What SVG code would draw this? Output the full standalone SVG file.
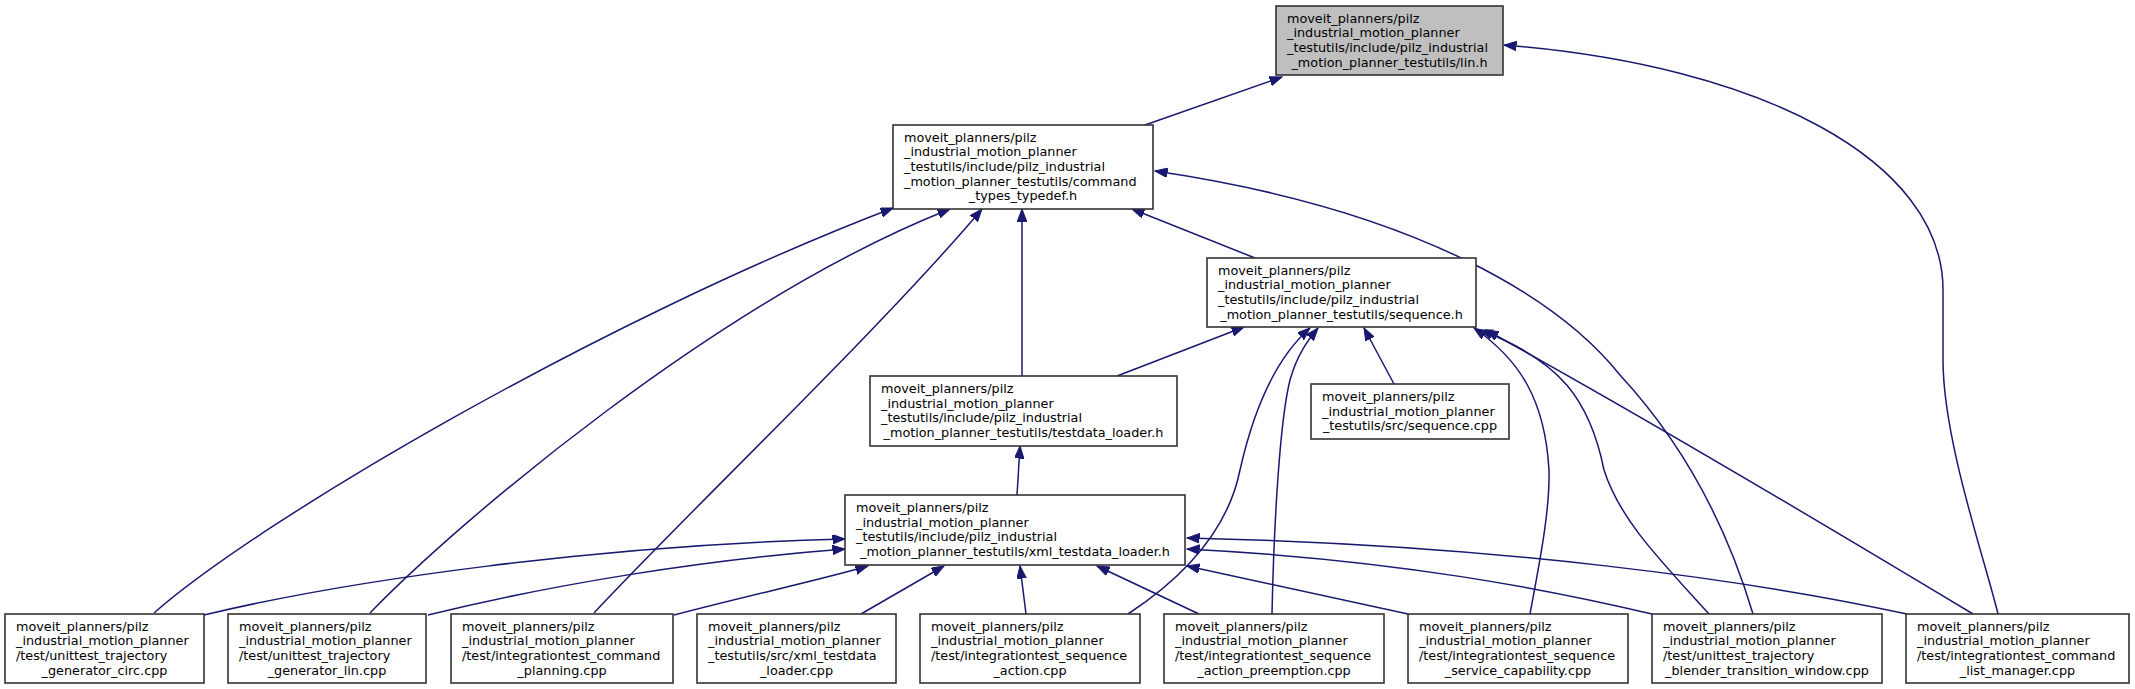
<svg xmlns="http://www.w3.org/2000/svg" width="2135" height="689" viewBox="0 0 2135 689">
<style>
.bg{fill:#ffffff}
.n rect{fill:#ffffff;stroke:#333333;stroke-width:1.6}
.n.root rect{fill:#bfbfbf}
.n text{font-family:"DejaVu Sans",sans-serif;font-size:12.8px;fill:#000000}
.c{text-anchor:middle}
#edges path{fill:none;stroke:#191970;stroke-width:1.5;marker-end:url(#ah)}
</style>
<defs>
<marker id="ah" markerUnits="userSpaceOnUse" markerWidth="14" markerHeight="10" refX="12.5" refY="4.75" orient="auto">
<path d="M0,0 L12.5,4.75 L0,9.5 z" fill="#191970" stroke="#191970" stroke-width="1"/>
</marker>
</defs>
<rect class="bg" x="0" y="0" width="2135" height="689"/>
<g id="edges">
<path d="M1145,125 L1282,77"/>
<path d="M1998,614 C1985,560 1943,440 1943,360 L1943,290 C1943,160 1760,65 1504,45"/>
<path d="M154,613 C260,520 600,320 893,208"/>
<path d="M370,613 C460,520 720,300 950,209"/>
<path d="M594,613 C680,520 880,330 982,209"/>
<path d="M1022,376 L1022,209"/>
<path d="M1255,258 L1132,209"/>
<path d="M1753,614 C1725,520 1680,440 1620,375 C1560,300 1420,210 1155,171"/>
<path d="M1117,376 L1244,327"/>
<path d="M1017,495 L1020,446"/>
<path d="M1128,614 C1195,570 1230,520 1240,470 C1258,390 1285,350 1310,328"/>
<path d="M1272,614 C1274,520 1280,420 1290,380 C1297,355 1308,340 1318,328"/>
<path d="M1394,384 L1364,328"/>
<path d="M1530,614 C1540,560 1550,510 1549,470 C1545,400 1520,360 1474,328"/>
<path d="M1709,614 C1660,560 1620,520 1604,470 C1590,400 1560,360 1480,330"/>
<path d="M1973,614 C1850,540 1650,420 1486,330"/>
<path d="M204,615 C350,580 600,545 845,539"/>
<path d="M428,615 C550,585 700,560 845,549"/>
<path d="M674,615 C750,595 820,580 868,566"/>
<path d="M861,614 L944,566"/>
<path d="M1026,614 L1020,566"/>
<path d="M1199,614 L1097,566"/>
<path d="M1408,614 L1187,566"/>
<path d="M1652,614 C1550,590 1400,560 1187,549"/>
<path d="M1907,614 C1750,580 1500,545 1187,538"/>
</g>
<g id="lin_h" class="n root">
<rect x="1276" y="6" width="227" height="69"/>
<text x="1287" y="22.5">moveit_planners/pilz</text>
<text x="1287" y="37.2">_industrial_motion_planner</text>
<text x="1287" y="51.8">_testutils/include/pilz_industrial</text>
<text class="c" x="1389.5" y="66.5">_motion_planner_testutils/lin.h</text>
</g>
<g id="command_types_typedef_h" class="n">
<rect x="893" y="125" width="260" height="84"/>
<text x="904" y="141.7">moveit_planners/pilz</text>
<text x="904" y="156.3">_industrial_motion_planner</text>
<text x="904" y="171">_testutils/include/pilz_industrial</text>
<text x="904" y="185.7">_motion_planner_testutils/command</text>
<text class="c" x="1023" y="200.3">_types_typedef.h</text>
</g>
<g id="sequence_h" class="n">
<rect x="1207" y="258" width="269" height="69"/>
<text x="1218" y="274.5">moveit_planners/pilz</text>
<text x="1218" y="289.2">_industrial_motion_planner</text>
<text x="1218" y="303.8">_testutils/include/pilz_industrial</text>
<text class="c" x="1341.5" y="318.5">_motion_planner_testutils/sequence.h</text>
</g>
<g id="testdata_loader_h" class="n">
<rect x="870" y="376" width="307" height="70"/>
<text x="881" y="393">moveit_planners/pilz</text>
<text x="881" y="407.7">_industrial_motion_planner</text>
<text x="881" y="422.3">_testutils/include/pilz_industrial</text>
<text class="c" x="1023.5" y="437">_motion_planner_testutils/testdata_loader.h</text>
</g>
<g id="sequence_cpp" class="n">
<rect x="1311" y="384" width="198" height="55"/>
<text x="1322" y="400.8">moveit_planners/pilz</text>
<text x="1322" y="415.5">_industrial_motion_planner</text>
<text class="c" x="1410" y="430.2">_testutils/src/sequence.cpp</text>
</g>
<g id="xml_testdata_loader_h" class="n">
<rect x="845" y="495" width="340" height="70"/>
<text x="856" y="512">moveit_planners/pilz</text>
<text x="856" y="526.7">_industrial_motion_planner</text>
<text x="856" y="541.3">_testutils/include/pilz_industrial</text>
<text class="c" x="1015" y="556">_motion_planner_testutils/xml_testdata_loader.h</text>
</g>
<g id="unittest_trajectory_generator_circ_cpp" class="n">
<rect x="5" y="614" width="199" height="69"/>
<text x="16" y="630.5">moveit_planners/pilz</text>
<text x="16" y="645.2">_industrial_motion_planner</text>
<text x="16" y="659.8">/test/unittest_trajectory</text>
<text class="c" x="104.5" y="674.5">_generator_circ.cpp</text>
</g>
<g id="unittest_trajectory_generator_lin_cpp" class="n">
<rect x="228" y="614" width="198" height="69"/>
<text x="239" y="630.5">moveit_planners/pilz</text>
<text x="239" y="645.2">_industrial_motion_planner</text>
<text x="239" y="659.8">/test/unittest_trajectory</text>
<text class="c" x="327" y="674.5">_generator_lin.cpp</text>
</g>
<g id="integrationtest_command_planning_cpp" class="n">
<rect x="451" y="614" width="222" height="69"/>
<text x="462" y="630.5">moveit_planners/pilz</text>
<text x="462" y="645.2">_industrial_motion_planner</text>
<text x="462" y="659.8">/test/integrationtest_command</text>
<text class="c" x="562" y="674.5">_planning.cpp</text>
</g>
<g id="xml_testdata_loader_cpp" class="n">
<rect x="697" y="614" width="199" height="69"/>
<text x="708" y="630.5">moveit_planners/pilz</text>
<text x="708" y="645.2">_industrial_motion_planner</text>
<text x="708" y="659.8">_testutils/src/xml_testdata</text>
<text class="c" x="796.5" y="674.5">_loader.cpp</text>
</g>
<g id="integrationtest_sequence_action_cpp" class="n">
<rect x="920" y="614" width="220" height="69"/>
<text x="931" y="630.5">moveit_planners/pilz</text>
<text x="931" y="645.2">_industrial_motion_planner</text>
<text x="931" y="659.8">/test/integrationtest_sequence</text>
<text class="c" x="1030" y="674.5">_action.cpp</text>
</g>
<g id="integrationtest_sequence_action_preemption_cpp" class="n">
<rect x="1164" y="614" width="220" height="69"/>
<text x="1175" y="630.5">moveit_planners/pilz</text>
<text x="1175" y="645.2">_industrial_motion_planner</text>
<text x="1175" y="659.8">/test/integrationtest_sequence</text>
<text class="c" x="1274" y="674.5">_action_preemption.cpp</text>
</g>
<g id="integrationtest_sequence_service_capability_cpp" class="n">
<rect x="1408" y="614" width="220" height="69"/>
<text x="1419" y="630.5">moveit_planners/pilz</text>
<text x="1419" y="645.2">_industrial_motion_planner</text>
<text x="1419" y="659.8">/test/integrationtest_sequence</text>
<text class="c" x="1518" y="674.5">_service_capability.cpp</text>
</g>
<g id="unittest_trajectory_blender_transition_window_cpp" class="n">
<rect x="1652" y="614" width="230" height="69"/>
<text x="1663" y="630.5">moveit_planners/pilz</text>
<text x="1663" y="645.2">_industrial_motion_planner</text>
<text x="1663" y="659.8">/test/unittest_trajectory</text>
<text class="c" x="1767" y="674.5">_blender_transition_window.cpp</text>
</g>
<g id="integrationtest_command_list_manager_cpp" class="n">
<rect x="1906" y="614" width="223" height="69"/>
<text x="1917" y="630.5">moveit_planners/pilz</text>
<text x="1917" y="645.2">_industrial_motion_planner</text>
<text x="1917" y="659.8">/test/integrationtest_command</text>
<text class="c" x="2017.5" y="674.5">_list_manager.cpp</text>
</g>
</svg>
